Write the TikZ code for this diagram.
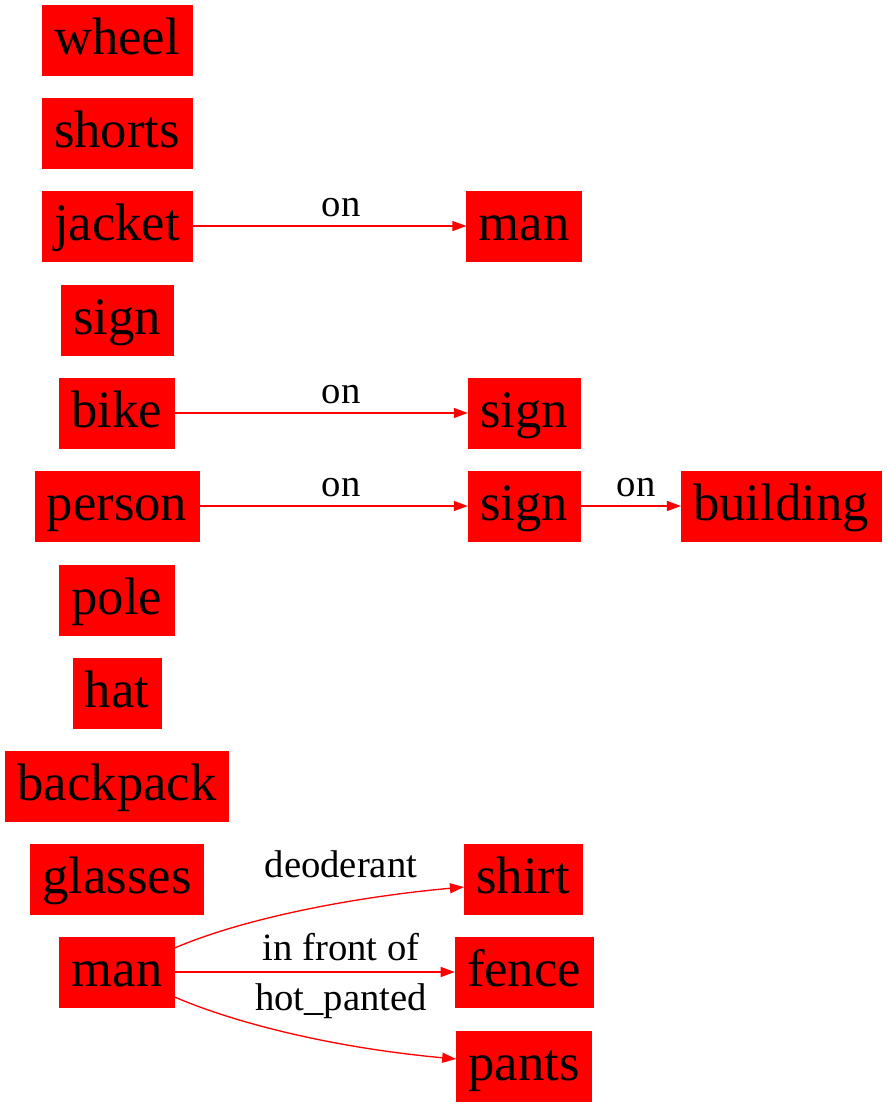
\documentclass[tikz,border=0pt]{standalone}
\usepackage{fontspec}
\setmainfont{Liberation Serif}
\usetikzlibrary{arrows.meta}

\begin{document}
\begin{tikzpicture}[x=0.75pt, y=0.75pt,
        obj/.style={fill=red, draw=red, minimum height=52.5pt, inner xsep=9pt, inner ysep=0pt,
            text height=28.3pt, text depth=6.9pt, font=\fontsize{39.5}{47}\selectfont},
        edge/.style={draw=red, line width=1pt, -{Triangle[length=10.5pt, width=7.5pt]}},
        lbl/.style={anchor=base, inner sep=0pt, font=\fontsize{29}{35}\selectfont}]
            \useasboundingbox (0,0) rectangle (887,-1107);

            % left column
            \node[obj] (wheel) at (117,-40) {wheel};
            \node[obj] (shorts) at (117,-133) {shorts};
            \node[obj] (jacket) at (117,-226) {jacket};
            \node[obj] (signa) at (117,-320) {sign};
            \node[obj] (bike) at (117,-413) {bike};
            \node[obj] (person) at (117,-506) {person};
            \node[obj] (pole) at (117,-600) {pole};
            \node[obj] (hat) at (117,-693) {hat};
            \node[obj] (backpack) at (117,-786) {backpack};
            \node[obj] (glasses) at (117,-879) {glasses};
            \node[obj] (mana) at (117,-972) {man};

            % right column
            \node[obj] (manb) at (524,-226) {man};
            \node[obj] (signb) at (524,-413) {sign};
            \node[obj] (signc) at (524,-506) {sign};
            \node[obj] (building) at (781,-506) {building};
            \node[obj] (shirt) at (523,-879) {shirt};
            \node[obj] (fence) at (524,-972) {fence};
            \node[obj] (pants) at (524,-1066) {pants};

            \draw[edge] (jacket) -- (manb);
            \node[lbl] (on1) at (341,-216) {on};
            \draw[edge] (bike) -- (signb);
            \node[lbl] (on2) at (341,-403) {on};
            \draw[edge] (person) -- (signc);
            \node[lbl] (on3) at (341,-496) {on};
            \draw[edge] (signc) -- (building);
            \node[lbl] (on4) at (636,-496) {on};

            \draw[edge] ([yshift=18pt]mana.east) .. controls +(70,30) and +(-110,-10) .. ([yshift=-6pt]shirt.west);
            \node[lbl] (deo) at (341,-877) {deoderant};
            \draw[edge] (mana) -- (fence);
            \node[lbl] (front) at (341,-960) {in front of};
            \draw[edge] ([yshift=-18.75pt]mana.east) .. controls +(70,-30) and +(-110,10) .. ([yshift=5.25pt]pants.west);
            \node[lbl] (hot) at (341,-1010) {hot\_panted};
        \end{tikzpicture}
\end{document}
